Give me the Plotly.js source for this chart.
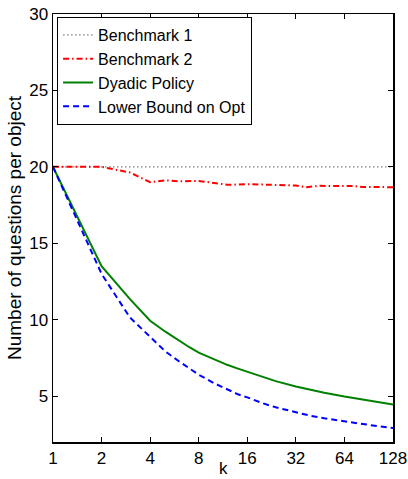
<!DOCTYPE html>
<html>
<head>
<meta charset="utf-8">
<script src="https://cdn.plot.ly/plotly-3.0.1.min.js"></script>
<style>html,body{margin:0;padding:0;background:#fff;}#chart{width:408px;height:479px;}</style>
</head>
<body>
<div id="chart"></div>
<script>
const xTicks = [1, 2, 4, 8, 16, 32, 64, 128];
const xTickLabels = ["1", "2", "4", "8", "16", "32", "64", "128"];
const yTicks = [5, 10, 15, 20, 25, 30];

const kBench1 = [1, 128];
const bench1 = [20, 20];

const kBench2 = [1, 2, 3, 4, 5, 6, 8, 10, 12, 14, 17, 20, 26, 32, 37, 45, 53, 62, 72, 83, 101, 117, 128];
const bench2 = [20, 20, 19.63, 19.0, 19.12, 19.06, 19.08, 18.95, 18.83, 18.84, 18.87, 18.84, 18.82, 18.78, 18.67, 18.76, 18.74, 18.74, 18.74, 18.69, 18.67, 18.67, 18.67];

const kDyadic = [1, 2, 3, 4, 5, 6, 7, 8, 10, 12, 14, 16, 20, 24, 32, 40, 48, 64, 80, 96, 128];
const dyadic = [20, 13.5, 11.35, 9.93, 9.2, 8.65, 8.2, 7.85, 7.38, 7.05, 6.8, 6.6, 6.22, 5.98, 5.63, 5.4, 5.22, 4.97, 4.8, 4.65, 4.45];

const kLower = [1, 2, 3, 4, 5, 6, 7, 8, 10, 12, 14, 16, 20, 24, 32, 40, 48, 64, 80, 96, 128];
const lower = [20, 13.0, 10.14, 8.85, 7.9, 7.3, 6.8, 6.4, 5.84, 5.42, 5.12, 4.92, 4.53, 4.27, 3.93, 3.7, 3.55, 3.34, 3.19, 3.08, 2.91];

const xTitle = "k";
const yTitle = "Number of questions per object";

const traces = [
  {x: kBench1, y: bench1, name: "Benchmark 1", mode: "lines",
   line: {color: "#808080", width: 1.2, dash: "1.5px,2.5px"}},
  {x: kBench2, y: bench2, name: "Benchmark 2", mode: "lines",
   line: {color: "#ff0000", width: 2, dash: "6px,3px,1.5px,3px"}},
  {x: kDyadic, y: dyadic, name: "Dyadic Policy", mode: "lines",
   line: {color: "#008000", width: 2}},
  {x: kLower, y: lower, name: "Lower Bound on Opt", mode: "lines",
   line: {color: "#0000ff", width: 2, dash: "6px,4px"}}
];

const fam = "Liberation Sans, Arial, Helvetica, sans-serif";
const fnt = {family: fam, size: 17, color: "#000"};

const layout = {
  width: 408, height: 479,
  margin: {l: 53, r: 15, t: 14, b: 37, pad: 0},
  paper_bgcolor: "#fff", plot_bgcolor: "#fff",
  showlegend: true,
  font: fnt,
  xaxis: {
    type: "log", range: [0, Math.log10(128)],
    tickvals: xTicks, ticktext: xTickLabels,
    ticks: "inside", ticklen: 5, tickcolor: "#000", tickwidth: 1,
    showline: true, linecolor: "#000", linewidth: 1.5, mirror: "ticks",
    showgrid: false, zeroline: false,
    tickfont: fnt
  },
  yaxis: {
    range: [2, 30],
    tickvals: yTicks,
    ticks: "inside", ticklen: 5, tickcolor: "#000", tickwidth: 1,
    showline: true, linecolor: "#000", linewidth: 1.5, mirror: "ticks",
    showgrid: false, zeroline: false,
    tickfont: fnt,
    title: {text: yTitle, font: {family: fam, size: 19, color: "#000"}, standoff: 2}
  },
  annotations: [
    {text: xTitle, xref: "paper", yref: "paper", x: 0.5, y: -0.0855,
     xanchor: "center", yanchor: "bottom", borderpad: 0, showarrow: false, font: fnt}
  ],
  legend: {
    x: 0.012, y: 0.993, xanchor: "left", yanchor: "top",
    bgcolor: "#fff", bordercolor: "#000", borderwidth: 1,
    font: {family: fam, size: 16, color: "#000"}, tracegroupgap: 0, itemwidth: 30
  }
};

Plotly.newPlot("chart", traces, layout, {displayModeBar: false, staticPlot: true});
</script>
</body>
</html>
